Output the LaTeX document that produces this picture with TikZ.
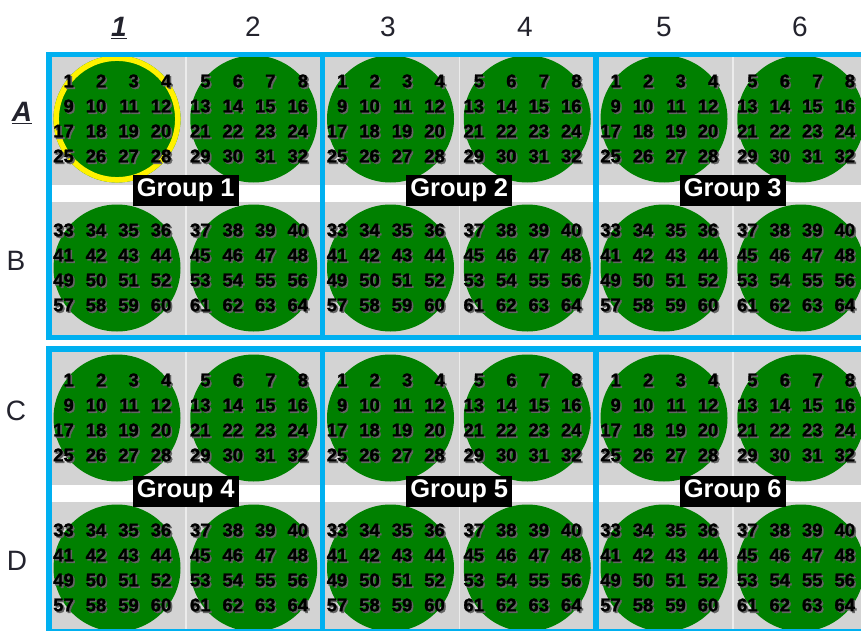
\documentclass[tikz,border=0pt]{standalone}
\usepackage{fontspec}
\setmainfont{Liberation Sans}
\newfontfamily\numfont{Liberation Sans}[BoldFeatures={FakeBold=1.3}]
\definecolor{wellgreen}{RGB}{0,128,0}
\definecolor{plateblue}{RGB}{0,176,240}
\definecolor{cellgray}{RGB}{211,211,211}
\definecolor{divgray}{RGB}{236,236,236}
\definecolor{hdrtext}{RGB}{35,35,45}
\definecolor{shadowgray}{RGB}{100,100,100}
\begin{document}
\begin{tikzpicture}[x=1pt,y=-1pt,
  wellstyle/.style={circle,fill=wellgreen,draw=none,inner sep=0pt,minimum size=127pt},
  numstyle/.style={inner sep=0pt,anchor=east,text=black,font=\numfont\bfseries\fontsize{18.5}{18.5}\selectfont},
  numshadow/.style={numstyle,text=shadowgray},
  grouplabel/.style={fill=black,text=white,inner sep=0pt,minimum width=106pt,minimum height=31pt,font=\bfseries\fontsize{25.5}{25.5}\selectfont},
  hdr/.style={inner sep=0pt,anchor=base,text=hdrtext,font=\fontsize{28}{28}\selectfont},
  groupframe/.style={draw=plateblue,line width=5.5pt},
  divider/.style={draw=divgray,line width=1.5pt}]
\useasboundingbox (0,0) rectangle (861,631);
\clip (0,0) rectangle (861,631);
\fill[white] (0,0) rectangle (861,631);
% group backgrounds
\foreach \gy/\top/\bot/\bandt in {0/54.5/337.5/185,1/349/632/485} {
  \foreach \gx in {0,1,2} {
    \pgfmathsetmacro\xl{49+273.5*\gx}
    \pgfmathsetmacro\xr{322.5+273.5*\gx}
    \pgfmathsetmacro\xd{186+273.5*\gx}
    \fill[cellgray] (\xl,\top) rectangle (\xr,\bot);
    \fill[white] (\xl,\bandt) rectangle (\xr,\bandt+17);
    \draw[divider] (\xd,\top) -- (\xd,\bot);
  }
}
% wells
\foreach \c in {0,...,5} {
  \foreach \r in {0,...,3} {
    \pgfmathsetmacro\cx{117+136.75*\c}
    \pgfmathsetmacro\cy{{119,268,418,568}[\r]}
    \node[wellstyle] (w-\c-\r) at (\cx,\cy) {};
  }
}
\draw[yellow,line width=5.5pt] (w-0-0.center) circle[radius=60.8];
% numbers
\foreach \c in {0,...,5} {
  \foreach \r in {0,...,3} {
    \pgfmathtruncatemacro\cc{mod(\c,2)}
    \pgfmathtruncatemacro\rr{mod(\r,2)}
    \pgfmathsetmacro\cx{117+136.75*\c}
    \pgfmathsetmacro\cy{{119,268,418,568}[\r]}
    \foreach \i in {0,...,3} {
      \foreach \j in {0,...,3} {
        \pgfmathtruncatemacro\num{32*\rr+8*\i+4*\cc+\j+1}
        \pgfmathsetmacro\nx{\cx-43+32.5*\j}
        \pgfmathsetmacro\ny{\cy-38+25*\i}
        \node[numshadow] (s-\c-\r-\i-\j) at (\nx+1.6,\ny+1.6) {\num};
        \node[numstyle] (n-\c-\r-\i-\j) at (\nx,\ny) {\num};
      }
    }
  }
}
% group frames
\foreach \gy/\top/\bot in {0/54.5/337.5,1/349/632} {
  \foreach \gx in {0,1,2} {
    \pgfmathsetmacro\xl{49+273.5*\gx}
    \pgfmathsetmacro\xr{322.5+273.5*\gx}
    \draw[groupframe] (\xl,\top) rectangle (\xr,\bot);
  }
}
% group labels
\foreach \gy in {0,1} {
  \foreach \gx in {0,1,2} {
    \pgfmathtruncatemacro\gn{1+\gx+3*\gy}
    \node[grouplabel] (g-\gn) at (185.75+273.5*\gx,190.5+301*\gy) {Group \gn};
  }
}
% headers
\node[hdr] (h1) at (119,37) {\bfseries\itshape\underline{1}};
\node[hdr] (h2) at (253,37) {2};
\node[hdr] (h3) at (388,37) {3};
\node[hdr] (h4) at (525,37) {4};
\node[hdr] (h5) at (664,37) {5};
\node[hdr] (h6) at (800,37) {6};
\node[hdr] (rA) at (22,122) {\bfseries\itshape\underline{A}};
\node[hdr] (rB) at (16,270) {B};
\node[hdr] (rC) at (16,420) {C};
\node[hdr] (rD) at (17,570) {D};
\end{tikzpicture}
\end{document}
